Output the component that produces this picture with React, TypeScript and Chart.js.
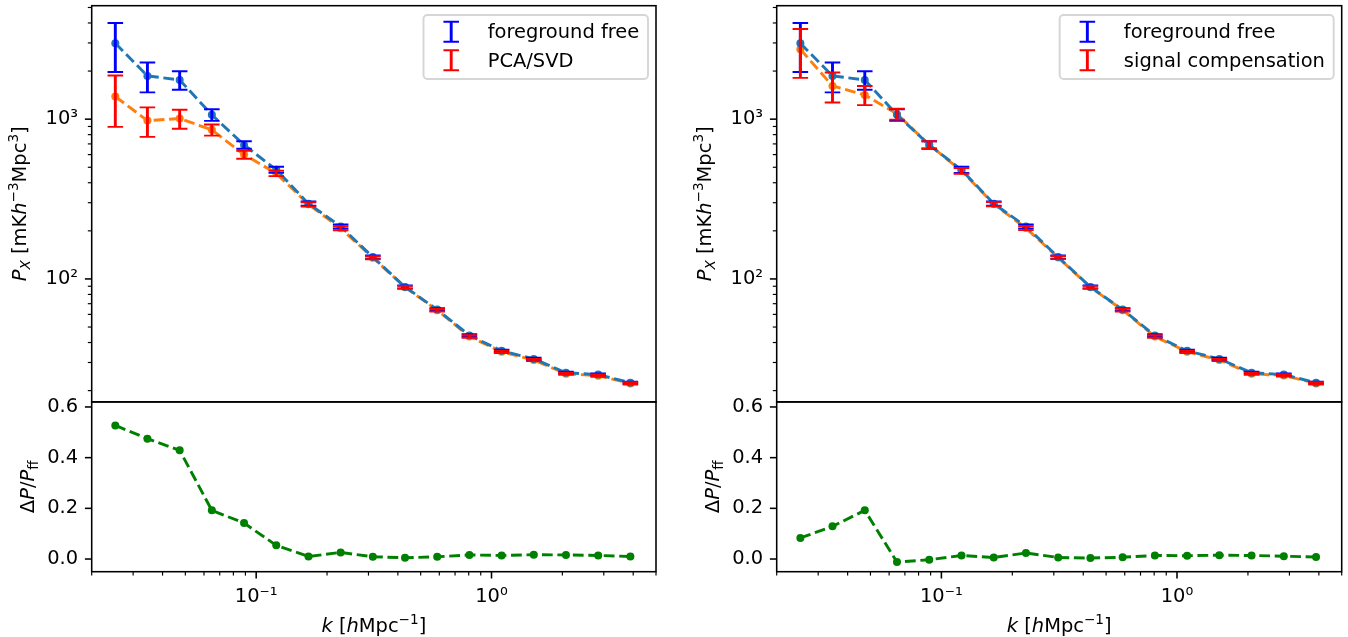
import React, { useEffect, useRef } from 'react';
import { Chart, registerables } from 'chart.js';

Chart.register(...registerables);

// ---------------- data ----------------
const kValues = [0.0252, 0.0345, 0.0473, 0.0648, 0.0888, 0.1217, 0.1668, 0.2285, 0.3131, 0.429, 0.5879, 0.8055, 1.104, 1.512, 2.072, 2.84, 3.891];

const pFgFree = [2985, 1866, 1761, 1064, 690, 482, 296, 213, 137, 89.1, 64.3, 44.3, 35.5, 31.6, 25.9, 25.2, 22.4];
const errFgFree = [1010, 395, 232, 88, 38, 21, 9, 6, 3, 1.8, 1.2, 0.8, 0.6, 0.5, 0.4, 0.4, 0.35];

const pPcaSvd = [1385, 980, 1009, 857, 600, 458, 293, 207.5, 135.8, 88.7, 63.7, 43.6, 35.0, 31.1, 25.5, 24.8, 22.2];
const errPcaSvd = [490, 205, 137, 68, 34, 18, 9, 6, 3, 1.8, 1.2, 0.8, 0.6, 0.5, 0.4, 0.4, 0.35];

const pSignalComp = [2738, 1615, 1418, 1078, 691, 475, 294, 208, 136, 88.7, 63.8, 43.6, 35.0, 31.1, 25.5, 24.9, 22.2];
const errSignalComp = [925, 342, 194, 85, 36, 20, 9, 6, 3, 1.8, 1.2, 0.8, 0.6, 0.5, 0.4, 0.4, 0.35];

const ratioPcaSvd = [0.527, 0.475, 0.429, 0.192, 0.142, 0.054, 0.010, 0.026, 0.009, 0.005, 0.009, 0.016, 0.014, 0.017, 0.016, 0.014, 0.010];
const ratioSignalComp = [0.083, 0.129, 0.192, -0.012, -0.003, 0.014, 0.006, 0.024, 0.006, 0.004, 0.007, 0.014, 0.013, 0.015, 0.014, 0.011, 0.008];

const xMajorTicks = [0.1, 1];
const xMajorLabels = ['10\u207B\u00B9', '10\u2070'];
const yMajorTicks = [100, 1000];
const yMajorLabels = ['10\u00B2', '10\u00B3'];
const ratioTicks = [0, 0.2, 0.4, 0.6];

const legendLabelsLeft = ['foreground free', 'PCA/SVD'];
const legendLabelsRight = ['foreground free', 'signal compensation'];

// ---------------- style ----------------
const FONT = '"DejaVu Sans", sans-serif';
const FS = 19.44;
const PT = 1.944;
const TAB_BLUE = '#1f77b4';
const TAB_ORANGE = '#ff7f0e';
const GREEN = '#008000';
const H = 637;

type Seg = { t: string; it?: boolean; sup?: boolean; sub?: boolean };

const yTitleTop: Seg[] = [
  { t: 'P', it: true }, { t: 'X', it: true, sub: true }, { t: ' [mK' }, { t: 'h', it: true },
  { t: '\u22123', sup: true }, { t: 'Mpc' }, { t: '3', sup: true }, { t: ']' },
];
const yTitleBottom: Seg[] = [
  { t: '\u0394' }, { t: 'P', it: true }, { t: '/' }, { t: 'P', it: true }, { t: 'ff', sub: true },
];
const xTitle: Seg[] = [
  { t: 'k', it: true }, { t: ' [' }, { t: 'h', it: true }, { t: 'Mpc' }, { t: '\u22121', sup: true }, { t: ']' },
];

function drawRich(ctx: CanvasRenderingContext2D, segs: Seg[], x: number, y: number, rotate: boolean) {
  ctx.save();
  ctx.translate(x, y);
  if (rotate) ctx.rotate(-Math.PI / 2);
  const fontFor = (s: Seg) => `${s.it ? 'italic ' : ''}${s.sup || s.sub ? FS * 0.7 : FS}px ${FONT}`;
  let total = 0;
  for (const s of segs) {
    ctx.font = fontFor(s);
    total += ctx.measureText(s.t).width;
  }
  let cx = -total / 2;
  ctx.textBaseline = 'alphabetic';
  ctx.textAlign = 'left';
  ctx.fillStyle = '#000';
  for (const s of segs) {
    ctx.font = fontFor(s);
    const dy = s.sup ? -0.42 * FS : s.sub ? 0.22 * FS : 0;
    ctx.fillText(s.t, cx, dy);
    cx += ctx.measureText(s.t).width;
  }
  ctx.restore();
}

function isNice(v: number) {
  const e = Math.floor(Math.log10(v) + 1e-9);
  const sig = v / Math.pow(10, e);
  return Math.abs(sig - Math.round(sig)) < 1e-6;
}

function findLabel(v: number, ticks: number[], labels: string[]) {
  const i = ticks.findIndex((t) => Math.abs(t - v) <= 1e-6 * Math.abs(t));
  return i >= 0 ? labels[i] : '';
}

type PanelProps = {
  left: number;
  width: number;
  padRight: number;
  pAlt: number[];
  errAlt: number[];
  ratio: number[];
  legendLabels: string[];
};

function Panel(props: PanelProps) {
  const ref = useRef<HTMLCanvasElement>(null);
  useEffect(() => {
    const canvas = ref.current!;
    const { pAlt, errAlt, ratio, legendLabels, padRight } = props;

    const drawErr = (chart: any, ys: number[], es: number[], color: string) => {
      const ctx = chart.ctx as CanvasRenderingContext2D;
      const xs = chart.scales.x;
      const ysScale = chart.scales.yp;
      ctx.save();
      ctx.strokeStyle = color;
      ctx.lineCap = 'butt';
      for (let i = 0; i < kValues.length; i++) {
        const px = xs.getPixelForValue(kValues[i]);
        const top = ysScale.getPixelForValue(ys[i] + es[i]);
        const bot = ysScale.getPixelForValue(ys[i] - es[i]);
        ctx.lineWidth = 1.5 * PT;
        ctx.beginPath();
        ctx.moveTo(px, top);
        ctx.lineTo(px, bot);
        ctx.stroke();
        ctx.lineWidth = 1.0 * PT;
        ctx.beginPath();
        ctx.moveTo(px - 4 * PT, top);
        ctx.lineTo(px + 4 * PT, top);
        ctx.moveTo(px - 4 * PT, bot);
        ctx.lineTo(px + 4 * PT, bot);
        ctx.stroke();
      }
      ctx.restore();
    };

    const decor = {
      id: 'mplDecor',
      afterDatasetsDraw(chart: any) {
        drawErr(chart, pFgFree, errFgFree, '#0000ff');
        drawErr(chart, pAlt, errAlt, '#ff0000');
      },
      afterDraw(chart: any) {
        const ctx = chart.ctx as CanvasRenderingContext2D;
        const ca = chart.chartArea;
        const xs = chart.scales.x;
        const yp = chart.scales.yp;
        const yr = chart.scales.yr;
        ctx.save();
        ctx.strokeStyle = '#000';
        // spines
        ctx.lineWidth = 0.8 * PT;
        ctx.strokeRect(ca.left, yp.top, ca.right - ca.left, yp.bottom - yp.top);
        ctx.strokeRect(ca.left, yr.top, ca.right - ca.left, yr.bottom - yr.top);
        // x ticks
        for (const t of xs.ticks) {
          const v = t.value;
          if (v < xs.min * 0.9999 || v > xs.max * 1.0001 || !isNice(v)) continue;
          const major = xMajorTicks.some((m) => Math.abs(m - v) < 1e-6 * m);
          const px = xs.getPixelForValue(v);
          ctx.lineWidth = major ? 0.8 * PT : 0.6 * PT;
          const len = major ? 3.5 * PT : 2 * PT;
          ctx.beginPath();
          ctx.moveTo(px, ca.bottom);
          ctx.lineTo(px, ca.bottom + len);
          ctx.stroke();
        }
        // yp ticks
        for (const t of yp.ticks) {
          const v = t.value;
          if (v < yp.min * 0.9999 || v > yp.max * 1.0001 || !isNice(v)) continue;
          const major = yMajorTicks.some((m) => Math.abs(m - v) < 1e-6 * m);
          const py = yp.getPixelForValue(v);
          ctx.lineWidth = major ? 0.8 * PT : 0.6 * PT;
          const len = major ? 3.5 * PT : 2 * PT;
          ctx.beginPath();
          ctx.moveTo(ca.left, py);
          ctx.lineTo(ca.left - len, py);
          ctx.stroke();
        }
        // yr ticks
        for (const v of ratioTicks) {
          const py = yr.getPixelForValue(v);
          ctx.lineWidth = 0.8 * PT;
          ctx.beginPath();
          ctx.moveTo(ca.left, py);
          ctx.lineTo(ca.left - 3.5 * PT, py);
          ctx.stroke();
        }
        ctx.restore();

        // axis titles
        drawRich(ctx, yTitleTop, 26, (yp.top + yp.bottom) / 2, true);
        drawRich(ctx, yTitleBottom, 34, (yr.top + yr.bottom) / 2, true);
        drawRich(ctx, xTitle, (ca.left + ca.right) / 2, 632, false);

        // legend
        ctx.save();
        ctx.font = `${FS}px ${FONT}`;
        const tw = Math.max(...legendLabels.map((l) => ctx.measureText(l).width));
        const pad = 0.4 * FS;
        const hl = 2.0 * FS;
        const htp = 0.8 * FS;
        const bw = pad * 2 + hl + htp + tw + 3;
        const bx = ca.right - 8 - bw;
        const by = yp.top + 9.3;
        const bh = 64;
        const r = 0.2 * FS;
        ctx.beginPath();
        ctx.moveTo(bx + r, by);
        ctx.lineTo(bx + bw - r, by);
        ctx.arcTo(bx + bw, by, bx + bw, by + r, r);
        ctx.lineTo(bx + bw, by + bh - r);
        ctx.arcTo(bx + bw, by + bh, bx + bw - r, by + bh, r);
        ctx.lineTo(bx + r, by + bh);
        ctx.arcTo(bx, by + bh, bx, by + bh - r, r);
        ctx.lineTo(bx, by + r);
        ctx.arcTo(bx, by, bx + r, by, r);
        ctx.closePath();
        ctx.fillStyle = 'rgba(255,255,255,0.8)';
        ctx.fill();
        ctx.strokeStyle = 'rgba(204,204,204,0.8)';
        ctx.lineWidth = 1.0 * PT;
        ctx.stroke();
        const rows = [by + 16.7, by + 45.3];
        const colors = ['#0000ff', '#ff0000'];
        const ix = bx + pad + hl / 2 + 0.5;
        for (let i = 0; i < 2; i++) {
          const cy = rows[i];
          ctx.strokeStyle = colors[i];
          ctx.lineWidth = 1.5 * PT;
          ctx.beginPath();
          ctx.moveTo(ix, cy - 10);
          ctx.lineTo(ix, cy + 10);
          ctx.stroke();
          ctx.lineWidth = 1.0 * PT;
          ctx.beginPath();
          ctx.moveTo(ix - 4 * PT, cy - 10);
          ctx.lineTo(ix + 4 * PT, cy - 10);
          ctx.moveTo(ix - 4 * PT, cy + 10);
          ctx.lineTo(ix + 4 * PT, cy + 10);
          ctx.stroke();
          ctx.fillStyle = '#000';
          ctx.textAlign = 'left';
          ctx.textBaseline = 'alphabetic';
          ctx.fillText(legendLabels[i], bx + pad + hl + htp + 2, cy + 6.2);
        }
        ctx.restore();
      },
    };

    const lineDs = (data: { x: number; y: number }[], color: string, axis: string) => ({
      data,
      yAxisID: axis,
      showLine: true,
      borderColor: color,
      backgroundColor: color,
      borderWidth: 1.5 * PT,
      borderDash: [3.7 * 1.5 * PT, 1.6 * 1.5 * PT],
      borderJoinStyle: 'round' as const,
      pointRadius: 4,
      pointBorderWidth: 0,
      pointBackgroundColor: color,
      pointHoverRadius: 4,
    });

    const tickFont = { family: FONT, size: FS };

    const chart = new Chart(canvas, {
      type: 'scatter',
      data: {
        datasets: [
          lineDs(kValues.map((x, i) => ({ x, y: pFgFree[i] })), TAB_BLUE, 'yp'),
          lineDs(kValues.map((x, i) => ({ x, y: pAlt[i] })), TAB_ORANGE, 'yp'),
          lineDs(kValues.map((x, i) => ({ x, y: ratio[i] })), GREEN, 'yr'),
        ] as any,
      },
      options: {
        animation: false,
        responsive: false,
        events: [],
        layout: { padding: { left: 0, right: padRight, top: 5.7, bottom: 0 } },
        plugins: { legend: { display: false }, tooltip: { enabled: false } },
        scales: {
          x: {
            type: 'logarithmic',
            position: 'bottom',
            min: 0.02,
            max: 5,
            grid: { display: false, drawTicks: false },
            border: { display: false },
            ticks: {
              autoSkip: false,
              maxRotation: 0,
              padding: 13.5,
              color: '#000',
              font: tickFont,
              callback: (v: any) => findLabel(Number(v), xMajorTicks, xMajorLabels),
            },
            afterFit: (s: any) => {
              s.height = H - 571.7;
              s.paddingLeft = 0;
              s.paddingRight = 0;
            },
          },
          yr: {
            type: 'linear',
            position: 'left',
            stack: 'col',
            stackWeight: 3,
            min: -0.05,
            max: 0.62,
            grid: { display: false, drawTicks: false },
            border: { display: false },
            ticks: {
              autoSkip: false,
              stepSize: 0.2,
              includeBounds: false,
              padding: 13.6,
              color: '#000',
              font: tickFont,
              callback: (v: any) => {
                const n = Number(v);
                return ratioTicks.some((t) => Math.abs(t - n) < 1e-6) ? n.toFixed(1) : '';
              },
            },
            afterBuildTicks: (s: any) => {
              s.ticks = s.ticks.filter((t: any) => t.value >= s.min - 1e-9 && t.value <= s.max + 1e-9);
            },
            afterFit: (s: any) => {
              s.width = 91.7;
              s.paddingTop = 0;
              s.paddingBottom = 0;
            },
          },
          yp: {
            type: 'logarithmic',
            position: 'left',
            stack: 'col',
            stackWeight: 7,
            min: 17,
            max: 5130,
            grid: { display: false, drawTicks: false },
            border: { display: false },
            ticks: {
              autoSkip: false,
              padding: 13.6,
              color: '#000',
              font: tickFont,
              callback: (v: any) => findLabel(Number(v), yMajorTicks, yMajorLabels),
            },
            afterFit: (s: any) => {
              s.width = 91.7;
              s.paddingTop = 0;
              s.paddingBottom = 0;
            },
          },
        } as any,
      },
      plugins: [decor],
    });
    return () => chart.destroy();
  }, []);

  return (
    <canvas
      ref={ref}
      width={props.width}
      height={H}
      style={{ position: 'absolute', left: props.left, top: 0, width: props.width, height: H }}
    />
  );
}

export default function App() {
  return (
    <div style={{ position: 'absolute', left: 0, top: 0, width: 1348, height: H, background: '#fff' }}>
      <Panel left={0} width={685} padRight={29} pAlt={pPcaSvd} errAlt={errPcaSvd} ratio={ratioPcaSvd} legendLabels={legendLabelsLeft} />
      <Panel left={685} width={663} padRight={6.3} pAlt={pSignalComp} errAlt={errSignalComp} ratio={ratioSignalComp} legendLabels={legendLabelsRight} />
    </div>
  );
}
